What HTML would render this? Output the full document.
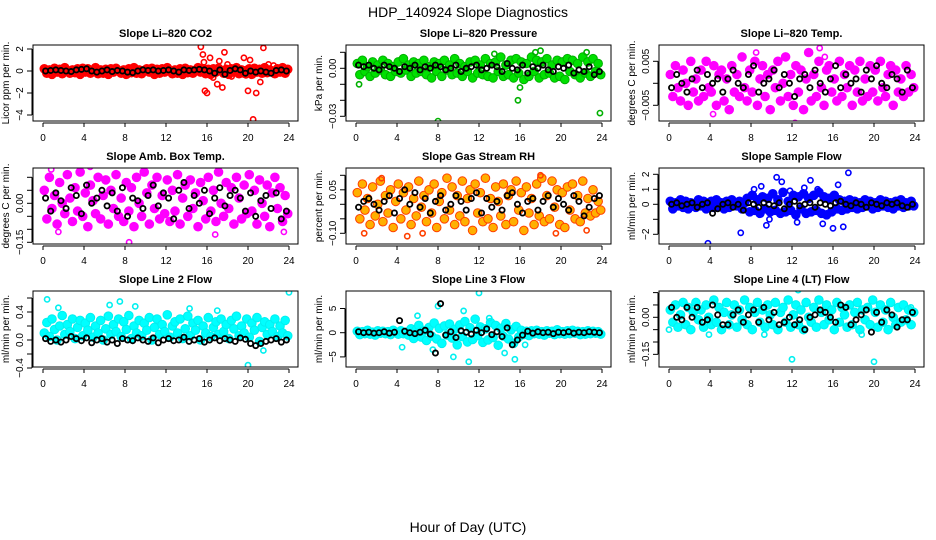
<!DOCTYPE html>
<html><head><meta charset="utf-8"><style>
html,body{margin:0;padding:0;background:#fff;}
svg{display:block;font-family:"Liberation Sans",Arial,sans-serif;}
</style></head><body>
<svg id="chart" width="936" height="540" viewBox="0 0 936 540" xmlns="http://www.w3.org/2000/svg">
<text x="468" y="17" text-anchor="middle" font-size="14">HDP_140924  Slope Diagnostics</text>
<text x="468" y="532" text-anchor="middle" font-size="14">Hour of Day (UTC)</text>
</svg>
<script>
const xTicks=[0,4,8,12,16,20,24];
// Panel 1: Li-820 CO2
const co2Band=[.2,-.2,.1,-.3,.25,-.1,.15,-.25,.3,0,-.2,.1,-.15,.2,-.3,.25,-.1,.2,-.2,.05,.3,-.25,.1,-.2,.15,-.3,.2,-.1,.25,0,-.2,.1,-.3,.2,-.15,.3,-.2,.1,-.25,.05,.2,-.1,.25,-.3,.15,-.2,.2,-.1,.3,0,-.25,.1,-.2,.2,-.3,.25,-.15,.1,-.2,.05,.3,-.1,.2,-.25,.15,-.3,.2,-.1,.25,0,-.2,.15,-.3,.2,-.1,.3,-.25,.1,-.2,.05,.2,-.3,.25,-.1,.15,-.2,.3,-.15,.1,0,-.25,.2,-.1,.3,-.2,.15];
const co2OutHours=[15.4,15.6,15.8,15.7,16.0,16.3,16.6,17.0,17.2,17.5,17.7,18.0,18.4,19.6,19.8,20.0,20.2,20.5,20.8,21.2,21.5,22.0,22.5];
const co2OutVals=[2.2,1.5,-1.8,0.8,-2.0,1.2,-0.6,-1.2,0.9,-1.5,1.7,0.6,-0.5,1.2,-0.4,-1.8,1.0,-4.4,-2.0,-1.0,2.1,0.6,0.5];
const co2Black=[0,0.05,0.1,0.05,0,-0.05,0.1,0.15,0.2,0,-0.1,0,0.1,-0.05,0.05,0,-0.1,-0.15,0,0.1,0.05,0.1,0,0.05,0.1,0,-0.1,0.1,0.05,0.1,0.15,0.1,0,-0.2,0.1,-0.3,0.05,0.2,0.1,-0.2,0,-0.1,0,-0.1,-0.2,0.05,0.1,0];
const co2Ticks=[2,0,-2,-4];
const co2TickLabels=["2","0","-2","-4"];
// Panel 2: Pressure
const presBand=[.003,-.004,.005,-.002,.001,-.005,.004,-.003,.002,-.001,.005,-.004,.003,-.005,.001,-.002,.004,-.003,.006,-.001,.002,-.005,.004,-.003,.003,-.002,.005,-.004,.001,-.006,.004,-.002,.003,-.005,.005,-.001,.002,-.004,.006,-.003,.003,-.005,.001,-.002,.004,-.006,.005,-.003,.002,-.004,.006,-.005,.003,-.006,.004,-.002,.007,-.005,.002,-.004,.005,-.006,.006,-.003,.004,-.007,.003,-.005,.007,-.002,.005,-.006,.004,-.004,.006,-.003,.002,-.006,.005,-.005,.004,-.007,.006,-.002,.005,-.004,.003,-.006,.007,-.003,.004,-.005,.006,-.002,.003,-.004];
const presOutHours=[0.3,8.0,15.8,16.0,17.5,18.0,23.8,22.5,13.5];
const presOutVals=[-.01,-.033,-.02,-.012,.01,.011,-.028,.01,.009];
const presBlack=[.002,.001,.002,0,-.001,.002,.001,0,-.002,.001,0,.002,-.001,.001,0,.002,.001,-.001,0,.002,-.002,0,.001,.002,-.001,0,.002,.001,-.002,.003,0,-.001,.002,-.003,.001,0,.002,-.001,-.002,.001,0,.002,-.003,-.001,-.002,.001,-.004,-.002];
const presTicks=[.01,0,-.01,-.02,-.03];
const presTickLabels=["","0.00","","","-0.03"];
// Panel 3: Li-820 Temp
const tempBand=[.002,-.003,.004,-.001,-.004,.003,0,-.005,.005,-.002,.001,-.004,.003,-.003,.005,-.001,-.002,.004,-.005,.002,.003,-.004,.001,-.006,.004,-.002,.002,-.003,.006,-.001,-.004,.003,-.002,.005,-.005,.001,.004,-.003,.002,-.006,.003,-.001,.005,-.004,0,.006,-.003,.002,-.005,.004,-.002,.003,-.006,.001,.007,-.004,.002,-.003,.005,-.001,-.005,.003,.004,-.002,.001,-.004,.005,-.003,.002,-.001,.004,-.005,.003,-.002,.005,-.004,.001,-.003,.004,-.002,.003,-.004,.005,-.001,-.003,.002,.004,-.005,.003,-.002,.001,-.003,.004,-.002,.002,-.001];
const tempOutHours=[8.5,12.3,14.7,15.5,15.2,4.3];
const tempOutVals=[.007,-.009,.008,.0095,.006,-.007];
const tempBlack=[-.001,.002,0,-.002,.001,.003,-.001,.002,0,.001,-.002,.001,.003,0,-.001,.002,.004,-.002,0,.001,.003,-.001,.002,0,-.003,.001,.002,-.001,.003,0,-.002,.001,.004,-.001,.002,0,.001,-.002,.003,.001,.004,0,-.001,.002,.001,-.002,.003,-.001];
const tempTicks=[.005,0,-.005];
const tempTickLabels=["0.005","","-0.005"];
// Panel 4: Amb Box Temp
const ambBand=[.05,-.06,.1,-.02,.03,-.08,.08,0,-.04,.11,.02,-.07,.06,-.03,.12,-.05,.04,-.09,.07,.01,-.04,.1,-.06,.03,.09,-.08,.05,-.02,.11,-.05,.02,-.07,.08,-.03,.06,-.09,.1,0,-.05,.12,.04,-.08,.07,-.02,.1,-.06,.03,-.04,.09,-.07,.05,-.03,.11,-.08,.02,.07,-.05,.09,-.02,.04,-.09,.08,.01,-.06,.1,-.03,.05,-.07,.12,0,-.05,.08,-.02,.06,-.08,.1,.02,-.06,.07,-.04,.11,-.03,.05,-.08,.09,0,-.05,.07,-.09,.04,.1,-.02,.06,-.07,.03,-.04];
const ambOutHours=[8.4,1.5,0.8,16.8,23.5,4.6];
const ambOutVals=[-.15,-.11,.13,-.12,-.11,.14];
const ambBlack=[.02,-.03,.04,.01,-.02,.06,.03,-.04,.07,0,.02,.05,-.01,.04,-.03,.06,-.05,.02,.01,-.02,.03,.07,-.01,.04,.02,-.06,.05,.08,-.02,.03,0,.05,-.04,.02,.06,-.01,.03,.05,.02,-.03,.04,-.05,.01,.03,-.02,.04,-.06,-.03];
const ambTicks=[.1,.05,0,-.05,-.1,-.15];
const ambTickLabels=["","","0.00","","","-0.15"];
// Panel 5: Gas Stream RH
const rhBand=[.04,-.05,.07,-.02,.02,-.07,.06,-.04,0,.08,-.06,.03,-.03,.05,-.08,.01,.07,-.05,.04,-.02,.06,-.07,.02,-.04,.08,-.01,.03,-.06,.05,-.03,.07,-.08,.01,.04,-.05,.09,-.02,.06,-.07,.03,-.04,.08,-.06,.02,.05,-.09,.07,-.03,.04,-.06,.09,-.05,.02,-.08,.06,.01,-.04,.07,-.07,.03,.05,-.06,.08,-.02,.04,-.09,.06,-.03,.02,-.07,.07,-.04,.09,-.06,.03,-.05,.08,-.01,.05,-.07,.04,-.08,.06,-.02,.07,-.05,.03,-.06,.08,-.03,.02,-.04,.05,-.03,.01,-.02];
const rhOutHours=[0.8,5.0,2.5,6.5,19.5,22.5,18.0];
const rhOutVals=[-.1,-.11,.09,-.1,-.1,-.09,.1];
const rhBlack=[-.01,.01,.02,0,-.02,.01,.03,-.03,.02,.05,0,.04,-.01,.02,-.03,.01,.03,-.02,0,.03,.01,-.02,.02,.04,-.03,.02,-.01,.01,-.02,.03,.04,0,-.03,.01,.02,-.02,.01,.03,-.01,.02,0,-.02,.03,.01,-.04,-.01,.02,.03];
const rhTicks=[.1,.05,0,-.05,-.1];
const rhTickLabels=["","0.05","","","-0.10"];
// Panel 6: Sample Flow
const sfBand=[.2,-.3,.1,-.1,.3,-.2,.2,-.3,.1,0,-.2,.3,-.1,.2,-.3,.1,.2,-.2,.3,-.1,.1,-.3,.2,-.2,.3,0,-.1,.2,-.3,.1,.4,-.5,.6,-.4,.3,-.6,.5,-.3,.4,-.5,.7,-.4,.3,-.6,.8,-.5,.2,-.4,.6,-.7,.5,-.3,.7,-.6,.4,-.5,.6,-.4,.8,-.6,.5,-.7,.4,-.5,.6,-.3,.3,-.4,.2,-.3,.3,-.2,.2,-.3,.1,-.2,.3,-.1,.2,-.3,.1,-.2,.3,-.1,.2,-.2,.1,-.3,.2,-.1,.3,-.2,.1,-.1,.2,-.1];
const sfOutHours=[3.8,7.0,8.3,9.0,9.8,10.5,11.0,12.5,13.2,13.8,15.0,16.0,16.5,17.5,17.0,14.5,9.5,11.8];
const sfOutVals=[-2.6,-1.9,1.0,1.2,-1.0,1.8,1.5,-1.2,1.1,1.6,-1.3,-1.6,1.3,2.1,-1.5,1.0,-1.4,0.9];
const sfBlack=[0,.1,-.1,0,.1,-.2,0,.1,-.6,-.3,0,.1,-.2,0,-.4,.1,0,-.2,.1,0,-.1,.1,-.3,0,.2,-.1,0,.1,-.2,.1,0,-.1,.1,.2,0,-.1,.1,0,-.2,.1,0,-.1,.1,0,.1,-.1,-.2,0];
const sfTicks=[2,1,0,-1,-2];
const sfTickLabels=["2","1","0","","-2"];
// Panel 7: Line 2 Flow
const l2Band=[.1,.25,.05,.3,.15,0,.2,.35,.08,.22,.12,.3,.02,.18,.28,.06,.24,.14,.32,.04,.2,.1,.28,0,.16,.34,.08,.22,.12,.3,.05,.26,.15,.35,.02,.2,.1,.28,.06,.24,.14,.32,0,.18,.3,.08,.22,.12,.36,.04,.2,.26,.1,.3,.02,.16,.34,.06,.24,.14,.28,0,.2,.1,.32,.05,.18,.26,.08,.3,.12,.22,.02,.28,.16,.34,.06,.2,.1,.3,.04,.24,.14,.32,-.02,.18,.26,.08,.22,.12,.3,.05,.2,.1,.28,.06];
const l2OutHours=[0.4,7.5,6.5,9.0,24.0,20.0,14.3,17.0,1.5,21.5];
const l2OutVals=[.58,.55,.5,.48,.68,-.36,.45,.42,.46,-.15];
const l2Black=[.02,-.02,0,-.03,0,.05,.02,-.01,.03,-.04,0,.02,-.03,0,-.05,.02,0,-.01,.03,0,-.02,.03,-.04,0,.02,-.01,0,.04,-.02,0,.02,-.03,0,.03,-.01,.02,0,-.02,.03,.01,-.05,-.08,-.05,-.02,0,.02,-.03,0];
const l2Ticks=[.6,.4,.2,0,-.2,-.4];
const l2TickLabels=["","0.4","","0.0","","-0.4"];
// Panel 8: Line 3 Flow
const l3Band=[.3,-.4,.2,-.2,.5,-.3,.1,-.5,.4,-.1,.3,-.2,.2,-.4,.5,0,-.3,.4,-.2,.1,-.5,.8,-1.2,.6,1.5,-.9,.4,-1.6,1.1,-.7,2.0,-1.3,.9,-2.2,1.4,-.5,1.8,-1.1,.7,-2.5,1.6,-.8,2.3,-1.9,1.0,-1.4,2.8,-.6,1.2,-2.0,.8,-1.5,2.1,-1.0,1.5,-2.6,.9,-.7,1.9,-1.3,.6,-2.2,1.3,-.9,.5,-.4,.3,-.6,.4,-.2,.5,-.3,.2,-.5,.4,-.1,.3,-.4,.6,-.2,.2,-.3,.4,-.2,.5,-.1,.3,-.4,.2,-.3,.4,-.2,.3,-.1,.2,-.3];
const l3OutHours=[8.0,12.0,9.5,7.5,10.5,13.0,14.5,15.5,11.0,6.0,16.5,4.5];
const l3OutVals=[5.5,8.2,-5.0,-3.5,4.5,3.0,-4.2,-5.5,-6.0,3.5,-2.5,-3.0];
const l3Black=[.2,0,.1,-.1,0,.2,-.1,.1,2.5,.3,0,-.2,.1,.5,-.3,-4.2,6.0,-.5,.2,-1.0,.4,.1,-.3,.5,0,.8,-.4,.2,-.8,1.0,-2.5,-1.5,-.5,.3,-.1,.2,0,.1,-.2,.1,0,.2,-.1,.1,0,.2,.1,0];
const l3Ticks=[5,0,-5];
const l3TickLabels=["5","0","-5"];
// Panel 9: Line 4 (LT) Flow
const l4Band=[.03,-.02,.05,-.04,.01,.06,-.03,.04,-.05,.02,.06,-.01,.03,-.04,.05,0,-.03,.07,-.02,.04,-.05,.02,.06,-.03,.01,.05,-.04,.03,-.01,.07,-.03,.04,-.05,.02,.06,-.02,.03,-.04,.05,.01,-.03,.06,-.05,.02,.04,-.02,.07,-.04,.01,.05,-.03,.03,-.05,.06,0,-.02,.04,-.04,.07,.02,-.03,.05,-.01,.03,-.05,.06,-.02,.04,.01,-.04,.05,-.03,.02,.06,-.05,.03,-.01,.04,-.03,.07,.02,-.04,.05,-.02,.03,-.05,.06,0,-.03,.04,-.02,.05,-.01,.03,-.03,.02];
const l4OutHours=[0.0,3.9,9.3,12.0,12.6,20.0,18.8,23.6];
const l4OutVals=[-.05,-.07,-.07,-.17,.11,-.18,-.07,.04];
const l4Black=[.04,0,-.01,.04,0,.04,-.02,-.01,.05,.01,-.03,-.03,.01,.03,-.02,.01,.03,-.02,.04,-.01,.02,-.03,-.02,0,-.03,-.01,-.05,0,.01,.03,.02,0,-.02,.05,.04,-.03,-.01,.01,.03,-.06,.02,-.02,.03,.01,-.04,-.01,-.01,.02];
const l4Ticks=[.1,.05,0,-.05,-.1,-.15];
const l4TickLabels=["","","0.00","","","-0.15"];

const NS="http://www.w3.org/2000/svg";
const svg=document.getElementById('chart');
function mk(tag,attrs,parent){const e=document.createElementNS(NS,tag);for(const k in attrs)e.setAttribute(k,attrs[k]);(parent||svg).appendChild(e);return e;}

const panels=[
 {key:'co2',title:'Slope Li\u2013820 CO2',ylab:'Licor ppm per min.',col:0,row:0,y0:71,k:11,fill:'#ff0000',stroke:'#ff0000',band:co2Band,oh:co2OutHours,ov:co2OutVals,blk:co2Black,ticks:co2Ticks,tl:co2TickLabels},
 {key:'pressure',title:'Slope Li\u2013820 Pressure',ylab:'kPa per min.',col:1,row:0,y0:68.3,k:1600,fill:'#00e000',stroke:'#00b000',band:presBand,oh:presOutHours,ov:presOutVals,blk:presBlack,ticks:presTicks,tl:presTickLabels},
 {key:'licor-temp',title:'Slope Li\u2013820 Temp.',ylab:'degrees C per min.',col:2,row:0,y0:83.3,k:4400,fill:'#ff00ff',stroke:'#ff00ff',band:tempBand,oh:tempOutHours,ov:tempOutVals,blk:tempBlack,ticks:tempTicks,tl:tempTickLabels},
 {key:'amb-box-temp',title:'Slope Amb. Box Temp.',ylab:'degrees C per min.',col:0,row:1,y0:203.3,k:260,fill:'#ff00ff',stroke:'#ff00ff',band:ambBand,oh:ambOutHours,ov:ambOutVals,blk:ambBlack,ticks:ambTicks,tl:ambTickLabels},
 {key:'gas-stream-rh',title:'Slope Gas Stream RH',ylab:'percent per min.',col:1,row:1,y0:204.3,k:290,fill:'#ffb000',stroke:'#ff4000',band:rhBand,oh:rhOutHours,ov:rhOutVals,blk:rhBlack,ticks:rhTicks,tl:rhTickLabels},
 {key:'sample-flow',title:'Slope Sample Flow',ylab:'ml/min per min.',col:2,row:1,y0:204.3,k:15,fill:'#0000ff',stroke:'#0000ff',band:sfBand,oh:sfOutHours,ov:sfOutVals,blk:sfBlack,ticks:sfTicks,tl:sfTickLabels},
 {key:'line2-flow',title:'Slope Line 2 Flow',ylab:'ml/min per min.',col:0,row:2,y0:340,k:70,fill:'#00ffff',stroke:'#00f0f0',band:l2Band,oh:l2OutHours,ov:l2OutVals,blk:l2Black,ticks:l2Ticks,tl:l2TickLabels},
 {key:'line3-flow',title:'Slope Line 3 Flow',ylab:'ml/min per min.',col:1,row:2,y0:332.7,k:4.84,fill:'#00ffff',stroke:'#00f0f0',band:l3Band,oh:l3OutHours,ov:l3OutVals,blk:l3Black,ticks:l3Ticks,tl:l3TickLabels},
 {key:'line4-flow',title:'Slope Line 4 (LT) Flow',ylab:'ml/min per min.',col:2,row:2,y0:317.3,k:247,fill:'#00ffff',stroke:'#00f0f0',band:l4Band,oh:l4OutHours,ov:l4OutVals,blk:l4Black,ticks:l4Ticks,tl:l4TickLabels}
];

panels.forEach(p=>{
  const L=33+p.col*313, R=L+265, T=45+p.row*123, B=T+76;
  const xs=h=>L+10+h*(246/24);
  const ys=v=>p.y0-v*p.k;
  const g=mk('g',{});
  
  
  const cp=mk('clipPath',{id:'clip-'+p.key},g);
  mk('rect',{x:L,y:T,width:R-L,height:B-T},cp);
  const t=mk('text',{x:(L+R)/2,y:T-8,'text-anchor':'middle','font-size':'11','font-weight':'bold'},g);
  t.textContent=p.title;
  
  
  const yl=mk('text',{x:0,y:0,transform:`translate(${L-24},${(T+B)/2}) rotate(-90)`,'text-anchor':'middle','font-size':'10'},g);
  yl.textContent=p.ylab;
  
  
  const pts=mk('g',{'clip-path':`url(#clip-${p.key})`},g);
  
  
  const n=p.band.length;
  p.band.forEach((v,i)=>{
    const c=mk('circle',{cx:xs((i+0.5)*24/n),cy:ys(v),r:4.3,fill:p.fill,stroke:p.stroke,'stroke-width':1},pts);
    
    
  });
  p.oh.forEach((h,i)=>{
    const c=mk('circle',{cx:xs(h),cy:ys(p.ov[i]),r:2.6,fill:'none',stroke:p.stroke,'stroke-width':1.6},pts);
    
    
  });
  const nb=p.blk.length;
  p.blk.forEach((v,i)=>{
    const c=mk('circle',{cx:xs((i+0.5)*24/nb),cy:ys(v),r:2.6,fill:'none',stroke:'#000','stroke-width':1.8},pts);
    
    
  });
  const box=mk('rect',{x:L,y:T,width:R-L,height:B-T,fill:'none',stroke:'#000','stroke-width':1},g);
  
  
  const xa=mk('g',{},g);
  
  
  mk('line',{x1:xs(0),x2:xs(24),y1:B+2,y2:B+2,stroke:'#000'},xa);
  xTicks.forEach(h=>{
    mk('line',{x1:xs(h),x2:xs(h),y1:B+2,y2:B+6,stroke:'#000'},xa);
    const tt=mk('text',{x:xs(h),y:B+20,'text-anchor':'middle','font-size':'10'},xa);
    tt.textContent=h;
    
    
  });
  const ya=mk('g',{},g);
  
  
  const yt=p.ticks.map(ys);
  mk('line',{x1:L-1,x2:L-1,y1:Math.min(...yt),y2:Math.max(...yt),stroke:'#000'},ya);
  p.ticks.forEach((v,i)=>{
    const y=ys(v);
    mk('line',{x1:L-6,x2:L-1,y1:y,y2:y,stroke:'#000'},ya);
    if(p.tl[i]){
      const tt=mk('text',{x:0,y:0,transform:`translate(${L-10},${y}) rotate(-90)`,'text-anchor':'middle','font-size':'10'},ya);
      tt.textContent=p.tl[i].replace('-','\u2212');
      
      
    }
  });
});
</script>
</body></html>
